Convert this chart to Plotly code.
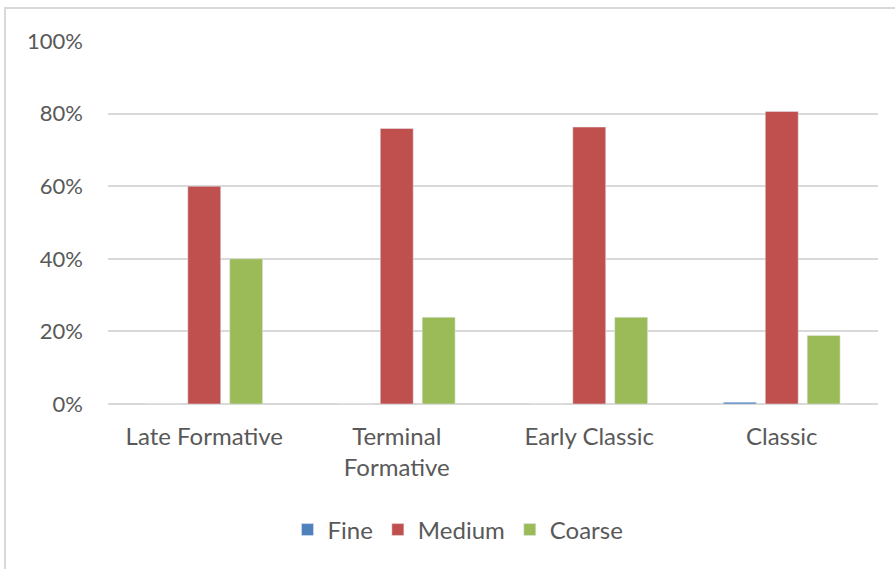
import plotly.graph_objects as go

categories = ["Late Formative", "Terminal<br>Formative", "Early Classic", "Classic"]
fine = [0.0, 0.0, 0.0, 0.005]
medium = [0.60, 0.759, 0.763, 0.806]
coarse = [0.40, 0.239, 0.239, 0.189]
tick_vals = [0, 0.2, 0.4, 0.6, 0.8, 1.0]
tick_text = ["0%", "20%", "40%", "60%", "80%", "100%"]

W, H = 895, 569
L, R, T, B = 108, 17, 41, 165

fig = go.Figure()
fig.add_bar(name="Fine", x=categories, y=fine, marker_color="#4F81BD")
fig.add_bar(name="Medium", x=categories, y=medium, marker_color="#C0504D")
fig.add_bar(name="Coarse", x=categories, y=coarse, marker_color="#9BBB59")

font = dict(family="Lato, 'Open Sans', sans-serif", size=24, color="#595959")
yfont = dict(family="Lato, 'Open Sans', sans-serif", size=22, color="#595959")

fig.update_layout(
    width=W, height=H,
    margin=dict(l=L, r=R, t=T, b=B, pad=0, autoexpand=False),
    paper_bgcolor="white", plot_bgcolor="white",
    barmode="group", bargap=0.347, bargroupgap=0.214,
    font=font,
    showlegend=True,
    legend=dict(orientation="h", x=(458 - L) / (W - L - R), xanchor="center",
                y=-(530 - (H - B)) / (H - T - B), yanchor="middle",
                font=font, itemwidth=30, traceorder="normal"),
    xaxis=dict(showgrid=False, showline=False, ticks="", ticklabelstandoff=16,
               tickfont=font, automargin=False),
    yaxis=dict(range=[0, 1.0], tickvals=tick_vals, ticktext=tick_text,
               showgrid=True, gridcolor="#D9D9D9", gridwidth=2,
               zeroline=True, zerolinecolor="#D9D9D9", zerolinewidth=2,
               showline=False, ticks="", ticklabelstandoff=24, tickfont=yfont,
               automargin=False),
    shapes=[dict(type="rect", xref="paper", yref="paper",
                 x0=(5 - L) / (W - L - R), x1=(905 - L) / (W - L - R),
                 y0=-(580 - (H - B)) / (H - T - B), y1=1 + (T - 8) / (H - T - B),
                 line=dict(color="#D9D9D9", width=2), fillcolor="rgba(0,0,0,0)",
                 layer="below")],
)

fig.write_html("out.html", config={"displayModeBar": False},
               post_script="document.body.style.margin='0';")
